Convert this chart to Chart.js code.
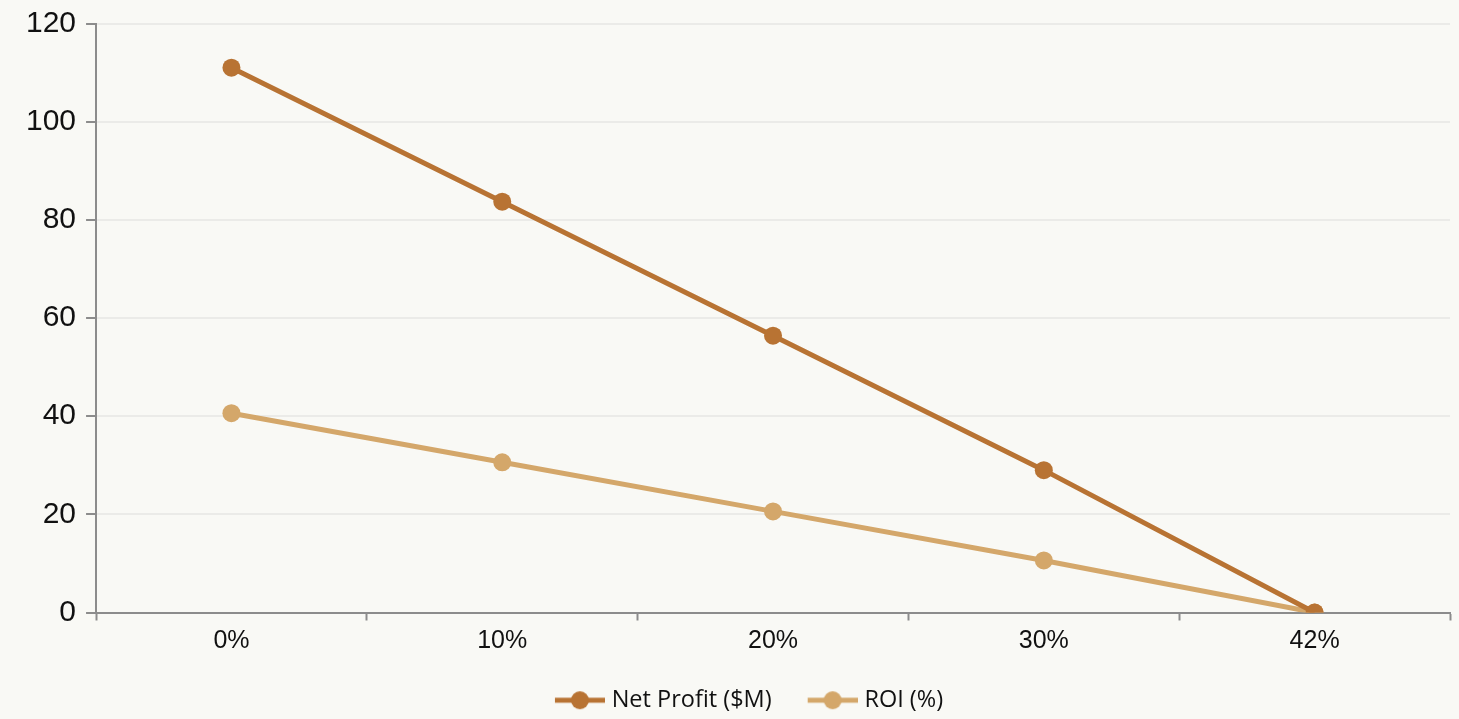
<!DOCTYPE html>
<html>
<head>
<meta charset="utf-8">
<script src="https://cdn.jsdelivr.net/npm/chart.js@4"></script>
<style>
  html, body { margin: 0; padding: 0; background: #f9f9f5; overflow: hidden; }
  #wrap { width: 1459px; height: 719px; }
</style>
</head>
<body>
<div id="wrap"><canvas id="chart"></canvas></div>
<script>
const labels = ['0%', '10%', '20%', '30%', '42%'];
const netProfit = [111, 83.7, 56.4, 29, 0];
const roi = [40.6, 30.6, 20.6, 10.6, 0];
const yTicks = [0, 20, 40, 60, 80, 100, 120];

const copper = '#b87333';
const tan = '#d4a76a';
const axisGray = '#8c8c8c';

// legend marker: a short line with a dot in the middle
// image is wider than the legend box so the line sits close to the text
function legendMarker(color) {
    const c = document.createElement('canvas');
    c.width = 78;
    c.height = 20;
    const g = c.getContext('2d');
    g.strokeStyle = color;
    g.lineWidth = 5;
    g.beginPath();
    g.moveTo(28, 10);
    g.lineTo(78, 10);
    g.stroke();
    g.fillStyle = color;
    g.beginPath();
    g.arc(53, 10, 9, 0, Math.PI * 2);
    g.fill();
    return c;
}

const markers = [legendMarker(copper), legendMarker(tan)];

new Chart(document.getElementById('chart'), {
    type: 'line',
    data: {
        labels: labels,
        datasets: [{
            label: 'Net Profit ($M)',
            data: netProfit,
            borderColor: copper,
            backgroundColor: copper,
            borderWidth: 5,
            pointRadius: 9,
            pointHoverRadius: 9,
            pointBorderWidth: 0,
            tension: 0
        }, {
            label: 'ROI (%)',
            data: roi,
            borderColor: tan,
            backgroundColor: tan,
            borderWidth: 5,
            pointRadius: 9,
            pointHoverRadius: 9,
            pointBorderWidth: 0,
            tension: 0
        }]
    },
    options: {
        responsive: true,
        maintainAspectRatio: false,
        animation: false,
        layout: { padding: { top: 5, right: 0, left: 16, bottom: -3 } },
        plugins: {
            tooltip: { enabled: false },
            legend: {
                position: 'bottom',
                labels: {
                    font: { family: 'Open Sans', size: 23.5 },
                    color: '#111',
                    usePointStyle: true,
                    pointStyleWidth: 68,
                    boxHeight: 20,
                    padding: 13,
                    generateLabels: chart => chart.data.datasets.map((ds, i) => ({
                        text: ds.label,
                        pointStyle: markers[i],
                        fillStyle: ds.borderColor,
                        strokeStyle: ds.borderColor,
                        lineWidth: 0,
                        hidden: false,
                        datasetIndex: i,
                        fontColor: '#111'
                    }))
                }
            }
        },
        scales: {
            x: {
                offset: true,
                afterFit: scale => {
                    scale.height = 63;
                    scale.paddingRight = 0;
                },
                grid: {
                    offset: true,
                    drawOnChartArea: false,
                    drawTicks: true,
                    tickLength: 8,
                    tickColor: axisGray,
                    tickWidth: 2
                },
                border: { color: axisGray, width: 2 },
                ticks: {
                    font: { family: 'Liberation Sans', size: 25 },
                    color: '#111',
                    padding: 6
                }
            },
            y: {
                min: 0,
                max: 120,
                afterBuildTicks: axis => { axis.ticks = yTicks.map(v => ({ value: v })); },
                grid: {
                    color: '#ebebe8',
                    lineWidth: 2,
                    tickColor: axisGray,
                    tickLength: 10,
                    tickWidth: 2
                },
                border: { color: axisGray, width: 2 },
                ticks: {
                    font: { family: 'Liberation Sans', size: 30, lineHeight: 0.9 },
                    color: '#111',
                    padding: 10
                }
            }
        }
    }
});
</script>
</body>
</html>
